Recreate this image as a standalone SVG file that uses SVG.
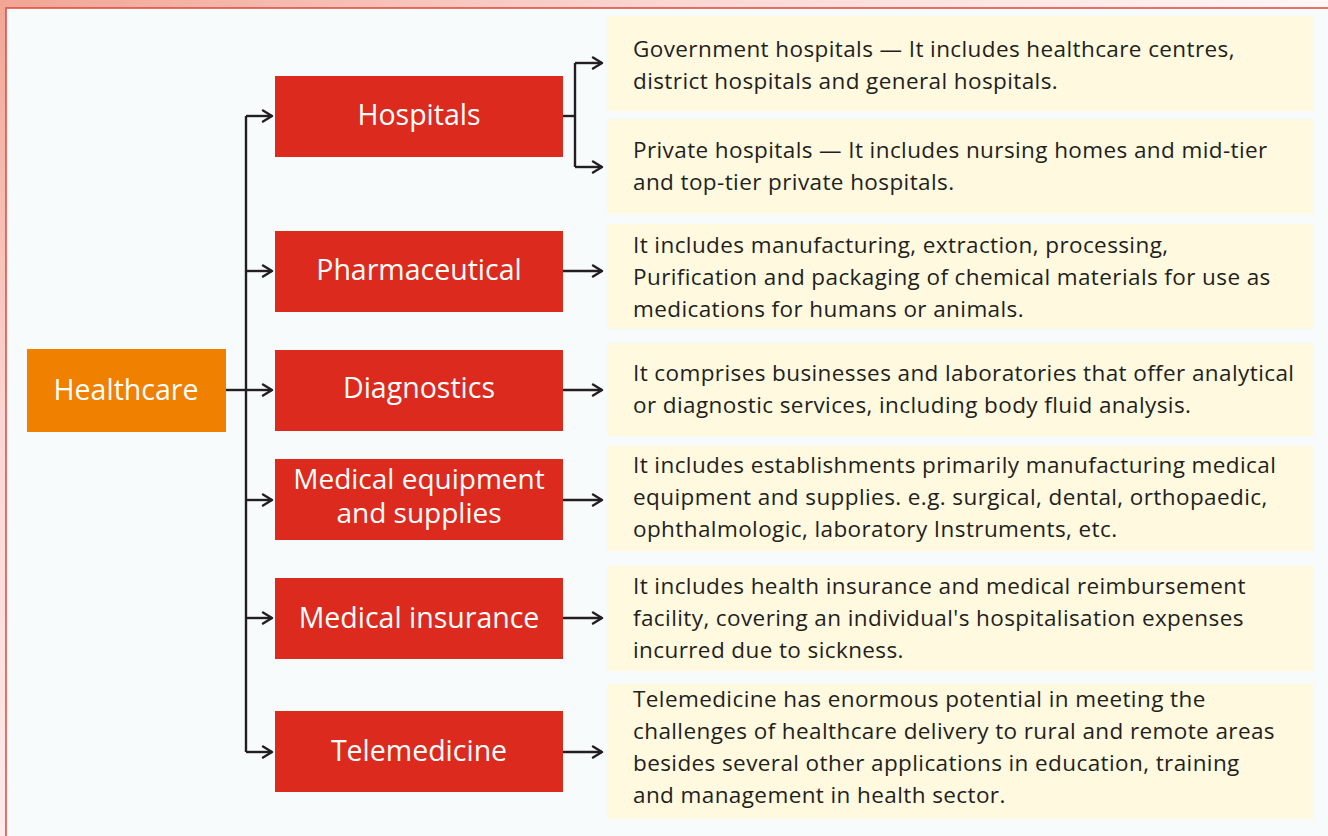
<svg xmlns="http://www.w3.org/2000/svg" width="1328" height="836" viewBox="0 0 1328 836">
<defs>
<linearGradient id="bgTop" x1="0" y1="0" x2="1" y2="0">
<stop offset="0" stop-color="#f2a594"/>
<stop offset="0.5" stop-color="#fbd6d2"/>
<stop offset="1" stop-color="#fff6f6"/>
</linearGradient>
<linearGradient id="bgLeft" x1="0" y1="0" x2="0" y2="1">
<stop offset="0" stop-color="#f2a594"/>
<stop offset="0.5" stop-color="#fbd6d2"/>
<stop offset="1" stop-color="#fdeaea"/>
</linearGradient>
<marker id="arr" markerWidth="14" markerHeight="14" refX="12" refY="7" orient="auto" markerUnits="userSpaceOnUse">
<path d="M3,1.5 L12,7 L3,12.5" fill="none" stroke="#231f20" stroke-width="2.4" stroke-linecap="round" stroke-linejoin="round"/>
</marker>
</defs>
<style>
.red{fill:#dc2b1e}
.org{fill:#f08000}
.yel{fill:#fef9df}
.lbl{font-family:"Open Sans","Noto Sans",sans-serif;font-size:28.5px;fill:#ffffff;text-anchor:middle}
.lbl2{font-size:28px}
.txt{font-family:"Open Sans","Noto Sans",sans-serif;font-size:22.5px;letter-spacing:0.4px;fill:#231f20}
.ln{fill:none;stroke:#231f20;stroke-width:2.4}
</style>
<rect x="0" y="0" width="1328" height="836" fill="url(#bgTop)"/>
<rect x="0" y="0" width="6" height="836" fill="url(#bgLeft)"/>
<rect x="6" y="8" width="1330" height="840" fill="#f7fbfc" stroke="#e0473c" stroke-width="1.5"/>

<g id="connectors">
<path class="ln" d="M226,390 H246"/>
<path class="ln" d="M246,116 V752"/>
<path class="ln" d="M246,116 H272" marker-end="url(#arr)"/>
<path class="ln" d="M246,271 H272" marker-end="url(#arr)"/>
<path class="ln" d="M246,390 H272" marker-end="url(#arr)"/>
<path class="ln" d="M246,500 H272" marker-end="url(#arr)"/>
<path class="ln" d="M246,618 H272" marker-end="url(#arr)"/>
<path class="ln" d="M246,752 H272" marker-end="url(#arr)"/>
<path class="ln" d="M563,116 H575"/>
<path class="ln" d="M575,63 V167"/>
<path class="ln" d="M575,63 H602" marker-end="url(#arr)"/>
<path class="ln" d="M575,167 H602" marker-end="url(#arr)"/>
<path class="ln" d="M563,271 H602" marker-end="url(#arr)"/>
<path class="ln" d="M563,390 H602" marker-end="url(#arr)"/>
<path class="ln" d="M563,500 H602" marker-end="url(#arr)"/>
<path class="ln" d="M563,618 H602" marker-end="url(#arr)"/>
<path class="ln" d="M563,752 H602" marker-end="url(#arr)"/>
</g>

<g id="healthcare">
<rect class="org" x="27" y="349" width="199" height="83"/>
<text class="lbl" x="126" y="400">Healthcare</text>
</g>

<g id="hospitals">
<rect class="red" x="275" y="76" width="288" height="81"/>
<text class="lbl" x="419" y="125">Hospitals</text>
</g>
<g id="pharmaceutical">
<rect class="red" x="275" y="231" width="288" height="81"/>
<text class="lbl" x="419" y="280">Pharmaceutical</text>
</g>
<g id="diagnostics">
<rect class="red" x="275" y="350" width="288" height="81"/>
<text class="lbl" x="419" y="398">Diagnostics</text>
</g>
<g id="medical-equipment">
<rect class="red" x="275" y="459" width="288" height="81"/>
<text class="lbl lbl2" x="419" y="489">Medical equipment</text>
<text class="lbl lbl2" x="419" y="523">and supplies</text>
</g>
<g id="medical-insurance">
<rect class="red" x="275" y="578" width="288" height="81"/>
<text class="lbl" x="419" y="628">Medical insurance</text>
</g>
<g id="telemedicine">
<rect class="red" x="275" y="711" width="288" height="81"/>
<text class="lbl" x="419" y="761">Telemedicine</text>
</g>

<g id="gov-hospitals">
<rect class="yel" x="607" y="16" width="707" height="95"/>
<text class="txt" x="633" y="57">Government hospitals — It includes healthcare centres,</text>
<text class="txt" x="633" y="89">district hospitals and general hospitals.</text>
</g>
<g id="private-hospitals">
<rect class="yel" x="607" y="119" width="707" height="95"/>
<text class="txt" x="633" y="158">Private hospitals — It includes nursing homes and mid-tier</text>
<text class="txt" x="633" y="190">and top-tier private hospitals.</text>
</g>
<g id="pharma-desc">
<rect class="yel" x="607" y="224" width="707" height="105"/>
<text class="txt" x="633" y="253">It includes manufacturing, extraction, processing,</text>
<text class="txt" x="633" y="285">Purification and packaging of chemical materials for use as</text>
<text class="txt" x="633" y="317">medications for humans or animals.</text>
</g>
<g id="diagnostics-desc">
<rect class="yel" x="607" y="343" width="707" height="93"/>
<text class="txt" x="633" y="381">It comprises businesses and laboratories that offer analytical</text>
<text class="txt" x="633" y="413">or diagnostic services, including body fluid analysis.</text>
</g>
<g id="equipment-desc">
<rect class="yel" x="607" y="446" width="707" height="105"/>
<text class="txt" x="633" y="473">It includes establishments primarily manufacturing medical</text>
<text class="txt" x="633" y="505">equipment and supplies. e.g. surgical, dental, orthopaedic,</text>
<text class="txt" x="633" y="537">ophthalmologic, laboratory Instruments, etc.</text>
</g>
<g id="insurance-desc">
<rect class="yel" x="607" y="566" width="707" height="105"/>
<text class="txt" x="633" y="594">It includes health insurance and medical reimbursement</text>
<text class="txt" x="633" y="626">facility, covering an individual's hospitalisation expenses</text>
<text class="txt" x="633" y="658">incurred due to sickness.</text>
</g>
<g id="telemedicine-desc">
<rect class="yel" x="607" y="684" width="707" height="135"/>
<text class="txt" x="633" y="707">Telemedicine has enormous potential in meeting the</text>
<text class="txt" x="633" y="739">challenges of healthcare delivery to rural and remote areas</text>
<text class="txt" x="633" y="771">besides several other applications in education, training</text>
<text class="txt" x="633" y="803">and management in health sector.</text>
</g>
</svg>
